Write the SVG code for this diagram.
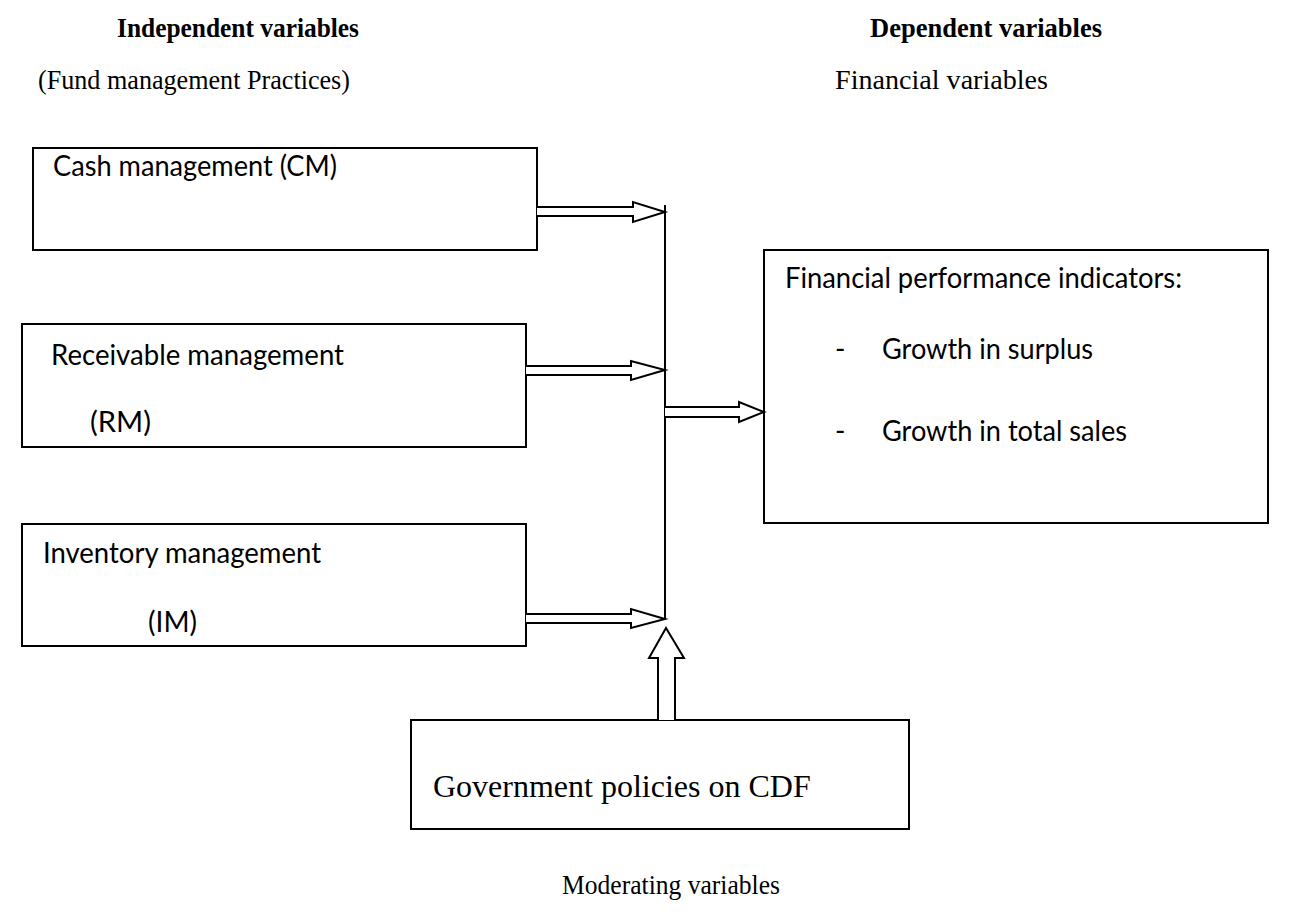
<svg xmlns="http://www.w3.org/2000/svg" width="1296" height="922" viewBox="0 0 1296 922">
  <style>
    .box { fill: #ffffff; stroke: #000000; stroke-width: 2; }
    .arrow { fill: #ffffff; stroke: #000000; stroke-width: 2; stroke-linejoin: miter; }
    .line { fill: none; stroke: #000000; stroke-width: 2; }
    .serif { font-family: "Liberation Serif", "Times New Roman", serif; fill: #000000; }
    .head { font-weight: bold; font-size: 27.5px; }
    .sub { font-size: 27.5px; }
    .sans { font-family: Lato, "Open Sans", "Liberation Sans", sans-serif; font-size: 28px; fill: #000000; }
  </style>
  <rect width="1296" height="922" fill="#ffffff"/>

  <g id="headings">
    <text class="serif head" x="117" y="37" textLength="242" lengthAdjust="spacingAndGlyphs">Independent variables</text>
    <text class="serif sub" x="38" y="89" textLength="312" lengthAdjust="spacingAndGlyphs">(Fund management Practices)</text>
    <text class="serif head" x="870" y="37" textLength="232" lengthAdjust="spacingAndGlyphs">Dependent variables</text>
    <text class="serif sub" x="835" y="89" textLength="213" lengthAdjust="spacingAndGlyphs">Financial variables</text>
  </g>

  <g id="node-cm">
    <rect class="box" x="33" y="148" width="504" height="102"/>
    <text class="sans" x="53" y="176" textLength="284" lengthAdjust="spacingAndGlyphs">Cash management (CM)</text>
  </g>

  <g id="node-rm">
    <rect class="box" x="22" y="324" width="504" height="123"/>
    <text class="sans" x="51" y="365" textLength="293" lengthAdjust="spacingAndGlyphs">Receivable management</text>
    <text class="sans" x="90" y="432" textLength="61" lengthAdjust="spacingAndGlyphs">(RM)</text>
  </g>

  <g id="node-im">
    <rect class="box" x="22" y="524" width="504" height="122"/>
    <text class="sans" x="43" y="563" textLength="278" lengthAdjust="spacingAndGlyphs">Inventory management</text>
    <text class="sans" x="148" y="632" textLength="49" lengthAdjust="spacingAndGlyphs">(IM)</text>
  </g>

  <g id="node-fp">
    <rect class="box" x="764" y="250" width="504" height="273"/>
    <text class="sans" x="785" y="288" textLength="397" lengthAdjust="spacingAndGlyphs">Financial performance indicators:</text>
    <text class="sans" x="835" y="359">-</text>
    <text class="sans" x="882" y="359" textLength="211" lengthAdjust="spacingAndGlyphs">Growth in surplus</text>
    <text class="sans" x="835" y="441">-</text>
    <text class="sans" x="882" y="441" textLength="245" lengthAdjust="spacingAndGlyphs">Growth in total sales</text>
  </g>

  <g id="node-gov">
    <rect class="box" x="411" y="720" width="498" height="109"/>
    <text class="serif" font-size="32" x="433" y="797">Government policies on CDF</text>
  </g>

  <g id="label-moderating">
    <text class="serif" font-size="27.5" x="562" y="894" textLength="218" lengthAdjust="spacingAndGlyphs">Moderating variables</text>
  </g>

  <g id="connectors">
    <line class="line" x1="665" y1="205" x2="665" y2="620"/>
    <path class="arrow" d="M537,207 L633,207 L633,202 L665,212 L633,222 L633,216 L537,216"/>
    <path class="arrow" d="M526,366 L631,366 L631,361 L665,370 L631,380 L631,375 L526,375"/>
    <path class="arrow" d="M526,614 L631,614 L631,609 L665,619 L631,628 L631,623 L526,623"/>
    <path class="arrow" d="M665,407 L739,407 L739,402 L764,412 L739,422 L739,417 L665,417"/>
    <path class="arrow" d="M658,720 L658,658 L649,658 L666,628 L684,658 L675,658 L675,720"/>
  </g>
</svg>
